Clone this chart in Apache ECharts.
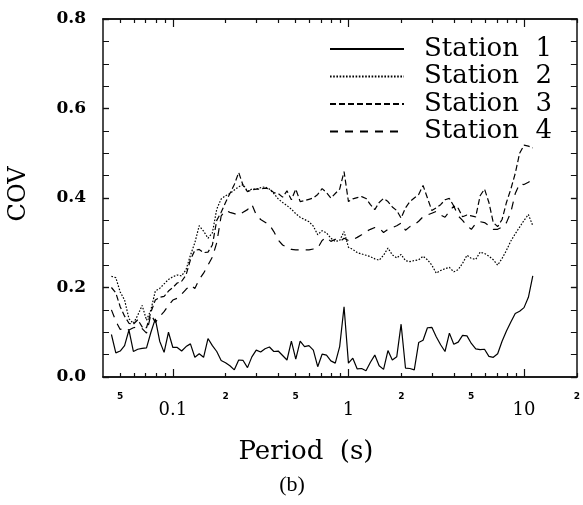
<!DOCTYPE html>
<html><head><meta charset="utf-8">
<script src="https://cdn.jsdelivr.net/npm/echarts@6/dist/echarts.min.js"></script>
<style>html,body{margin:0;padding:0;background:#fff}#c{width:583px;height:505px}</style>
</head><body><div id="c"></div>
<script>
// Sampled periods (s)
const periods = [0.04467,0.04732,0.05012,0.05309,0.05623,0.05957,0.06310,0.06683,0.07079,0.07499,0.07943,0.08414,0.08913,0.09441,
0.1,0.1059,0.1122,0.1189,0.1259,0.1334,0.1413,0.1496,0.1585,0.1679,0.1778,0.1884,0.1995,0.2113,0.2239,0.2371,0.2512,0.2661,0.2818,0.2985,
0.3162,0.3350,0.3548,0.3758,0.3981,0.4217,0.4467,0.4732,0.5012,0.5309,0.5623,0.5957,0.6310,0.6683,0.7079,0.7499,0.7943,0.8414,0.8913,0.9441,
1,1.059,1.122,1.189,1.259,1.334,1.413,1.496,1.585,1.679,1.778,1.884,1.995,2.113,2.239,2.371,2.512,2.661,2.818,2.985,
3.162,3.350,3.548,3.758,3.981,4.217,4.467,4.732,5.012,5.309,5.623,5.957,6.310,6.683,7.079,7.499,7.943,8.414,8.913,9.441,
10,10.59,11.22];

const station1 = [0.095,0.054,0.058,0.07,0.105,0.057,0.062,0.064,0.065,0.1,0.13,0.08,0.055,0.1,
0.066,0.066,0.058,0.068,0.074,0.044,0.052,0.044,0.086,0.07,
0.057,0.037,0.032,0.025,0.016,0.038,0.037,0.021,0.045,0.06,
0.056,0.063,0.067,0.057,0.058,0.048,0.038,0.08,0.04,0.08,
0.068,0.07,0.06,0.023,0.051,0.049,0.036,0.031,0.068,0.157,
0.031,0.042,0.018,0.019,0.014,0.033,0.049,0.025,0.017,0.059,
0.038,0.045,0.118,0.02,0.019,0.016,0.077,0.082,0.11,0.111,
0.09,0.072,0.057,0.098,0.073,0.078,0.093,0.092,0.075,0.063,
0.061,0.062,0.046,0.044,0.052,0.08,0.103,0.123,0.142,0.147,
0.155,0.178,0.226];

const station2 = [0.225,0.222,0.19,0.172,0.13,0.12,0.138,0.16,0.127,0.15,0.192,0.198,0.208,0.218,
0.224,0.228,0.226,0.24,0.272,0.3,0.338,0.326,0.31,0.322,
0.375,0.398,0.405,0.41,0.418,0.425,0.43,0.415,0.42,0.42,
0.423,0.425,0.42,0.41,0.398,0.39,0.383,0.375,0.365,0.357,
0.352,0.347,0.337,0.318,0.327,0.322,0.31,0.303,0.305,0.325,
0.29,0.285,0.278,0.275,0.272,0.269,0.264,0.261,0.272,0.288,
0.273,0.266,0.274,0.26,0.258,0.26,0.262,0.27,0.262,0.25,
0.232,0.238,0.242,0.245,0.235,0.24,0.254,0.272,0.265,0.263,
0.279,0.276,0.27,0.262,0.25,0.265,0.283,0.304,0.32,0.335,
0.35,0.363,0.338];

const station3 = [0.2,0.188,0.157,0.136,0.12,0.118,0.128,0.112,0.11,0.145,0.172,0.178,0.18,0.192,
0.2,0.21,0.214,0.228,0.262,0.283,0.285,0.278,0.279,0.295,
0.35,0.368,0.39,0.41,0.43,0.457,0.428,0.414,0.418,0.42,
0.42,0.422,0.42,0.412,0.41,0.402,0.416,0.396,0.42,0.392,
0.394,0.397,0.4,0.408,0.421,0.412,0.4,0.41,0.42,0.459,
0.392,0.398,0.401,0.403,0.399,0.385,0.374,0.39,0.399,0.392,
0.38,0.372,0.355,0.378,0.392,0.4,0.408,0.428,0.4,0.372,
0.378,0.385,0.396,0.399,0.382,0.377,0.358,0.362,0.36,0.358,
0.405,0.42,0.39,0.345,0.336,0.352,0.39,0.42,0.455,0.5,
0.518,0.516,0.512];

const station4 = [0.15,0.125,0.106,0.11,0.105,0.11,0.112,0.108,0.098,0.14,0.122,0.135,0.146,0.16,
0.172,0.176,0.185,0.196,0.205,0.198,0.218,0.232,0.25,0.268,
0.3,0.36,0.372,0.368,0.365,0.362,0.368,0.374,0.386,0.362,
0.352,0.346,0.34,0.325,0.306,0.295,0.29,0.285,0.284,0.284,
0.284,0.284,0.286,0.288,0.305,0.312,0.303,0.308,0.302,0.31,
0.305,0.307,0.312,0.318,0.325,0.33,0.334,0.333,0.323,0.33,
0.334,0.338,0.344,0.328,0.336,0.34,0.348,0.358,0.362,0.366,
0.37,0.362,0.357,0.37,0.382,0.36,0.35,0.338,0.33,0.343,
0.347,0.345,0.338,0.33,0.33,0.335,0.345,0.368,0.41,0.432,
0.43,0.435,0.442];

const seriesNames = ['Station  1','Station  2','Station  3','Station  4'];
const seriesValues = [station1, station2, station3, station4];
const dashTypes = ['solid', [1.6,1.6], [6,3], [8,7]];

const minorTickValues = [0.05,0.06,0.07,0.08,0.09,0.2,0.3,0.4,0.5,0.6,0.7,0.8,0.9,2,3,4,5,6,7,8,9,20];
const majorTickValues = [0.1,1,10];
const smallLabelValues = [0.05,0.2,0.5,2,5,20];
const bigLabelValues = [0.1,1,10];

const chart = echarts.init(document.getElementById('c'), null, {renderer:'canvas'});

function logAxis(pos, tickVals, tickLen, labelVals, labelOpts) {
  return {
    type:'log', logBase:10, min:0.04, max:20, position:pos, gridIndex:0,
    axisLine:{show:true, onZero:false, lineStyle:{color:'#111', width:1.5}},
    axisTick:{show:true, inside:true, length:tickLen, customValues:tickVals, lineStyle:{color:'#111', width:1.2}},
    axisLabel: labelVals ? Object.assign({show:true, customValues:labelVals}, labelOpts) : {show:false},
    splitLine:{show:false}, minorTick:{show:false}, minorSplitLine:{show:false}
  };
}

const fmtSmall = v => { const r = Math.round(v*1000)/1000; const s = String(r); return s.replace(/[0.]/g,'').charAt(0); };
const fmtBig = v => { const r = Math.round(v*1000)/1000; return String(r); };

const yBase = (pos, showLabel) => ({
  type:'value', min:0, max:0.8, interval:0.2, position:pos,
  axisLine:{show:true, lineStyle:{color:'#111', width:1.5}},
  axisTick:{show:true, inside:true, length:6, lineStyle:{color:'#111', width:1.4}},
  minorTick:{show:true, splitNumber:4, length:6, lineStyle:{color:'#111', width:1}},
  splitLine:{show:false},
  axisLabel: showLabel ? {show:true, margin:17, color:'#000', fontFamily:'DejaVu Serif', fontWeight:'bold', fontSize:17,
     formatter: v => v.toFixed(1)} : {show:false}
});

const option = {
  animation:false,
  backgroundColor:'#fff',
  grid:{left:103, top:19, width:479, height:358, containLabel:false},
  xAxis:[
    logAxis('bottom', minorTickValues, 4, smallLabelValues,
      {margin:15, color:'#000', fontFamily:'DejaVu Sans', fontWeight:'bold', fontSize:9, formatter:fmtSmall}),
    logAxis('bottom', majorTickValues, 8, bigLabelValues,
      {margin:24, color:'#000', fontFamily:'DejaVu Serif', fontSize:18, formatter:fmtBig}),
    logAxis('top', minorTickValues, 4, null),
    logAxis('top', majorTickValues, 8, null)
  ],
  yAxis:[ yBase('left', true), yBase('right', false) ],
  legend:{
    orient:'vertical', left:329, top:36, padding:0, itemWidth:74, itemHeight:14, itemGap:1.5,
    itemStyle:{opacity:0, borderWidth:0},
    textStyle:{fontFamily:'DejaVu Serif', fontSize:26, color:'#000', padding:[0,0,0,15]},
    data: seriesNames
  },
  series: seriesNames.map((name,i) => ({
    name, type:'line', xAxisIndex:0, yAxisIndex:0, symbol:'none', showSymbol:false,
    lineStyle:{color:'#000', width:1.2, type:dashTypes[i]},
    itemStyle:{color:'#000'},
    data: periods.map((p,j) => [p, seriesValues[i][j]])
  })),
  graphic:[
    {type:'text', x:19, y:194, rotation:Math.PI/2, style:{text:'COV', fontFamily:'DejaVu Serif', fontSize:24, fill:'#000', align:'center', verticalAlign:'middle'}},
    {type:'text', x:306, y:452, style:{text:'Period  (s)', fontFamily:'DejaVu Serif', fontSize:26, fill:'#000', align:'center', verticalAlign:'middle'}},
    {type:'text', x:292, y:485, style:{text:'(b)', fontFamily:'Liberation Serif', fontSize:22, fill:'#000', align:'center', verticalAlign:'middle'}}
  ]
};
chart.setOption(option);
</script></body></html>
